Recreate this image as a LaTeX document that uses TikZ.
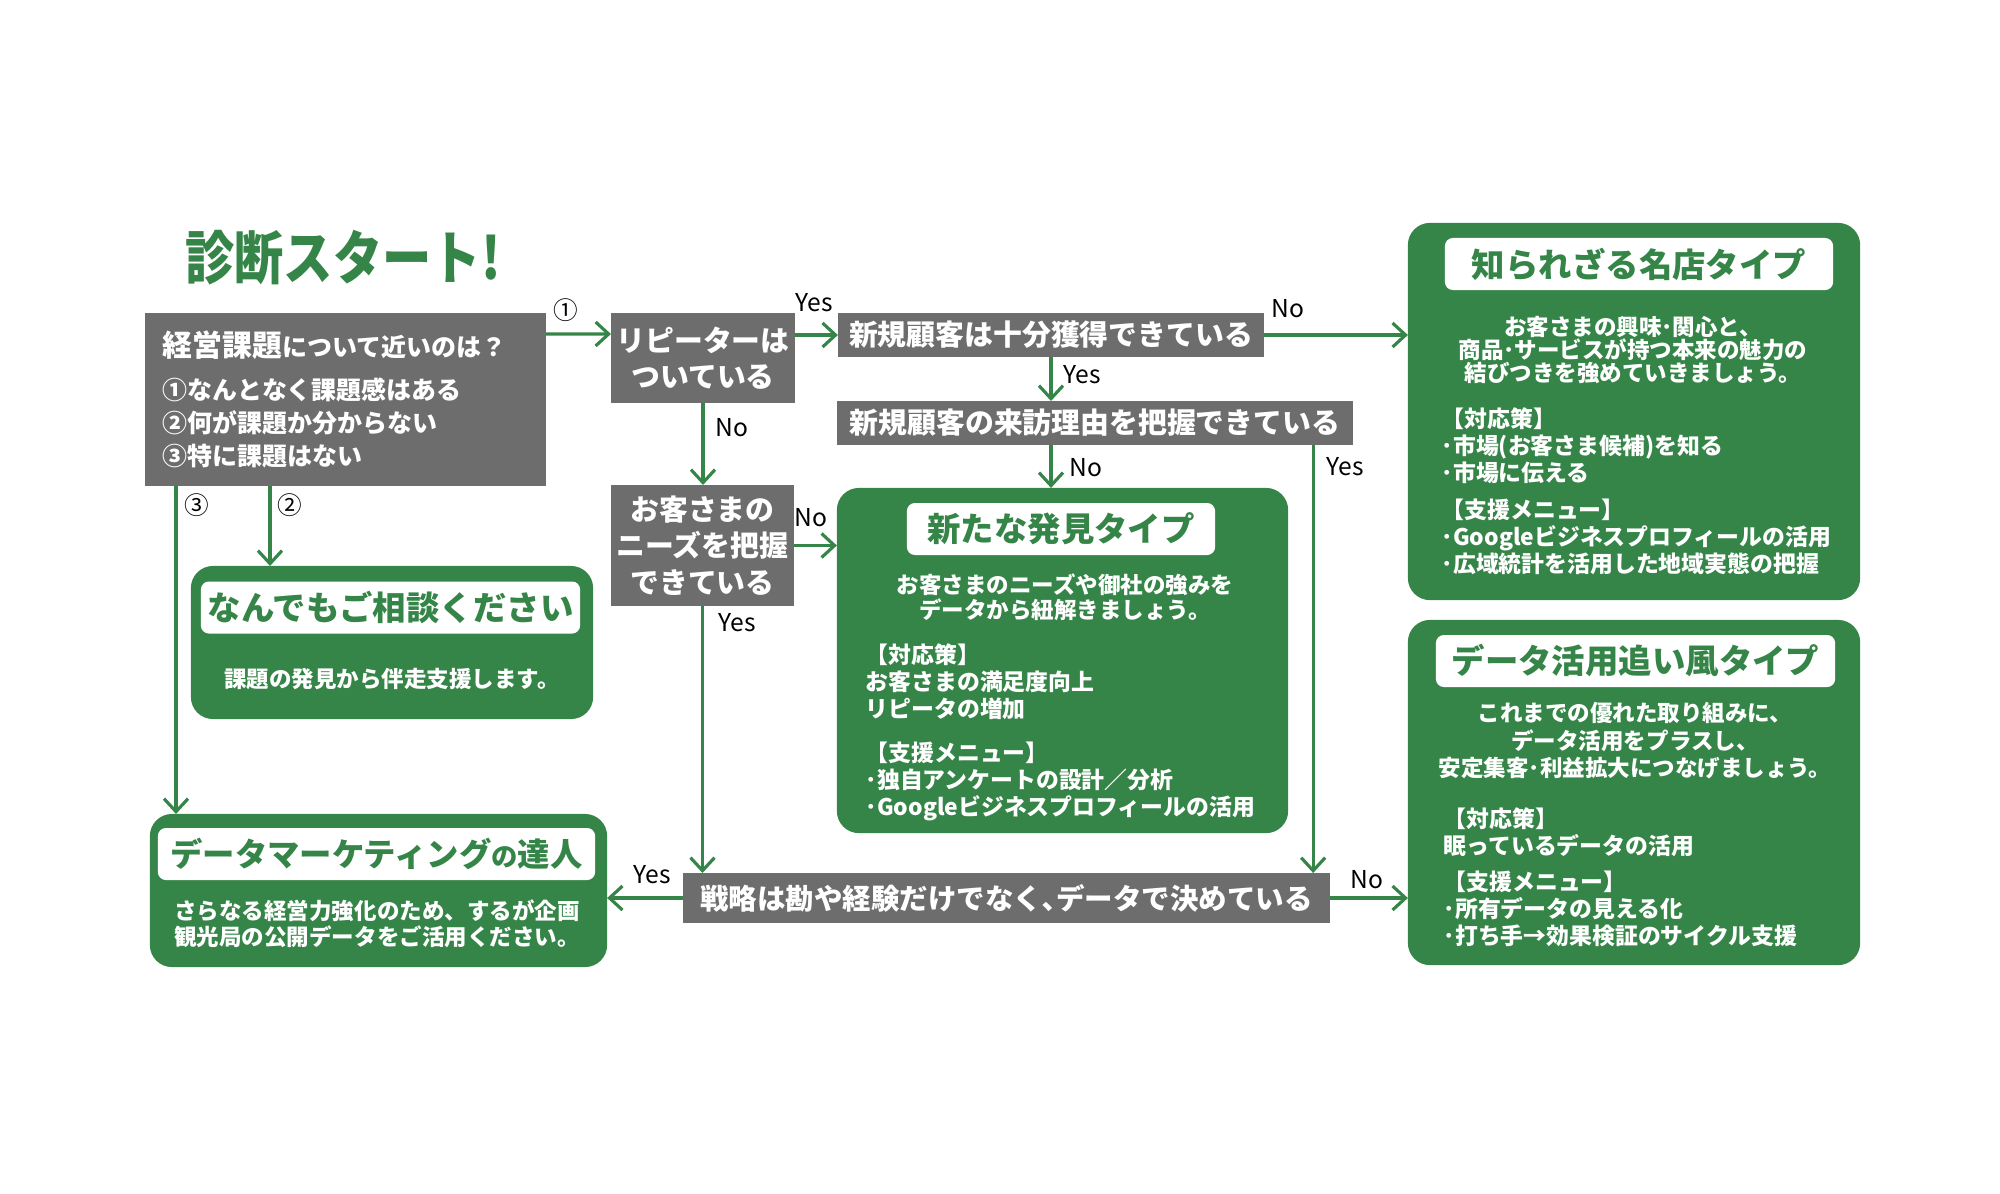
\documentclass[tikz,border=0pt]{standalone}
\usepackage{fontspec}
\setmainfont{Noto Sans CJK JP}
\usetikzlibrary{arrows.meta,calc}
\definecolor{dgreen}{RGB}{54,133,72}
\definecolor{qgray}{RGB}{109,109,110}

\begin{document}
\begin{tikzpicture}[x=0.01cm, y=-0.01cm,
  >={Straight Barb[length=1.3mm,width=2.4mm]},
  q/.style={fill=qgray, text=white, font=\bfseries\fontsize{8.2}{10.4}\selectfont, align=center, inner sep=0pt, outer sep=0pt},
  res/.style={fill=dgreen, rounded corners=0.22cm, inner sep=0pt, outer sep=0pt},
  ttl/.style={fill=white, rounded corners=0.08cm, text=dgreen, font=\bfseries\fontsize{9.5}{10}\selectfont, inner sep=0pt, minimum height=0.52cm},
  body/.style={text=white, font=\bfseries\fontsize{6.4}{6.6}\selectfont, align=center, inner sep=0pt},
  lst/.style={text=white, font=\bfseries\fontsize{6.5}{7.7}\selectfont, align=left, inner sep=0pt, anchor=north west},
  arr/.style={->, draw=dgreen, line width=0.9pt},
  lbl/.style={font=\fontsize{7}{8}\selectfont, inner sep=0pt}
]
\useasboundingbox (0,0) rectangle (2000,1193);

\node[font=\bfseries\fontsize{16.5}{18}\selectfont, text=dgreen, inner sep=0pt] (title) at (343,258) {\scalebox{0.85}[1]{診断スタート!}};

% questions
\node[q, minimum width=4.01cm, minimum height=1.73cm, text width=3.65cm, align=left, inner xsep=0.18cm, font=\bfseries\fontsize{7.1}{9.4}\selectfont] (q0) at (345.5,399.5) {{\fontsize{8.5}{9.4}\selectfont 経営課題}について近いのは？\\[2.6pt]①なんとなく課題感はある\\②何が課題か分からない\\③特に課題はない};
\node[q, minimum width=1.84cm, minimum height=0.90cm] (q1) at (703,358) {リピーターは\\ついている};
\node[q, minimum width=4.26cm, minimum height=0.44cm] (q2) at (1051,335) {新規顧客は十分獲得できている};
\node[q, minimum width=5.16cm, minimum height=0.44cm] (q3) at (1095,423) {新規顧客の来訪理由を把握できている};
\node[q, minimum width=1.83cm, minimum height=1.21cm] (q4) at (702.5,545.5) {お客さまの\\ニーズを把握\\できている};
\node[q, minimum width=6.47cm, minimum height=0.50cm, font=\bfseries\fontsize{8.1}{10}\selectfont] (q5) at (1006.5,898) {戦略は勘や経験だけでなく､データで決めている};

% results
\node[res, minimum width=4.52cm, minimum height=3.77cm] (r1) at (1634,411.5) {};
\node[ttl, minimum width=3.88cm] (t1) at (1639,264) {知られざる名店タイプ};
\node[body] (b1) at (1633,350) {お客さまの興味･関心と、\\商品･サービスが持つ本来の魅力の\\結びつきを強めていきましょう。};
\node[lst] (m1) at (1441,407) {【対応策】\\･市場(お客さま候補)を知る\\･市場に伝える\\[2.8pt]【支援メニュー】\\･Googleビジネスプロフィールの活用\\･広域統計を活用した地域実態の把握};

\node[res, minimum width=4.51cm, minimum height=3.45cm] (r2) at (1062.5,660.5) {};
\node[ttl, minimum width=3.08cm] (t2) at (1061,529) {新たな発見タイプ};
\node[body, font=\bfseries\fontsize{6.4}{7.1}\selectfont] (b2) at (1065,597) {お客さまのニーズや御社の強みを\\データから紐解きましょう。};
\node[lst] (m2) at (865,643) {【対応策】\\お客さまの満足度向上\\リピータの増加\\[4.8pt]【支援メニュー】\\･独自アンケートの設計／分析\\･Googleビジネスプロフィールの活用};

\node[res, minimum width=4.52cm, minimum height=3.45cm] (r3) at (1634,792.5) {};
\node[ttl, minimum width=3.99cm] (t3) at (1635.5,661) {データ活用追い風タイプ};
\node[body, font=\bfseries\fontsize{6.4}{7.8}\selectfont] (b3) at (1635,741) {これまでの優れた取り組みに、\\データ活用をプラスし、\\安定集客･利益拡大につなげましょう。};
\node[lst] (m3) at (1443,807) {【対応策】\\眠っているデータの活用\\[2.6pt]【支援メニュー】\\･所有データの見える化\\･打ち手→効果検証のサイクル支援};

\node[res, minimum width=4.02cm, minimum height=1.53cm] (r4) at (392,642.5) {};
\node[ttl, minimum width=3.79cm] (t4) at (390.5,607.5) {なんでもご相談ください};
\node[body] (b4) at (392,679) {課題の発見から伴走支援します。};

\node[res, minimum width=4.57cm, minimum height=1.53cm] (r5) at (378.5,890.5) {};
\node[ttl, minimum width=4.37cm, font=\bfseries\fontsize{9.2}{10}\selectfont] (t5) at (376.5,854) {データマーケティング{\fontsize{7.5}{8}\selectfont の}達人};
\node[body, font=\bfseries\fontsize{6.4}{7.4}\selectfont] (b5) at (377,924) {さらなる経営力強化のため、するが企画\\観光局の公開データをご活用ください。};

% connectors
\coordinate (c2) at (270,0);
\coordinate (c3) at (176,0);
\coordinate (y3) at ($(q3.south east)+(-40,0)$);
\draw[arr] ($(q0.north east)+(0,21)$) -- ($(q1.north west)+(0,21)$);
\draw[arr] (q1.east |- q2.west) -- (q2.west);
\draw[arr] (q1.south) -- (q1.south |- q4.north);
\draw[arr] (q2.east) -- (q2.east -| r1.west);
\draw[arr] (q2.south) -- (q2.south |- q3.north);
\draw[arr] (q2.south |- q3.south) -- (q2.south |- r2.north);
\draw[arr] (y3) -- (y3 |- q5.north);
\draw[arr] (q4.east) -- (q4.east -| r2.west);
\draw[arr] (q4.south) -- (q4.south |- q5.north);
\draw[arr] (q5.west) -- (q5.west -| r5.east);
\draw[arr] (q5.east) -- (q5.east -| r3.west);
\draw[arr] (c2 |- q0.south) -- (c2 |- r4.north);
\draw[arr] (c3 |- q0.south) -- (c3 |- r5.north);

\node[lbl] (k1) at (566,310) {①};
\node[lbl] (k2) at (290,505) {②};
\node[lbl] (k3) at (197,505) {③};
\node[lbl] (yes1) at (814,303) {Yes};
\node[lbl] (no1) at (1288,309) {No};
\node[lbl] (yes2) at (1082,375) {Yes};
\node[lbl] (no2) at (732,428) {No};
\node[lbl] (no3) at (1086,468) {No};
\node[lbl] (yes3) at (1345,467) {Yes};
\node[lbl] (no4) at (811,518) {No};
\node[lbl] (yes4) at (737,623) {Yes};
\node[lbl] (yes5) at (652,875) {Yes};
\node[lbl] (no5) at (1367,880) {No};
\end{tikzpicture}
\end{document}
